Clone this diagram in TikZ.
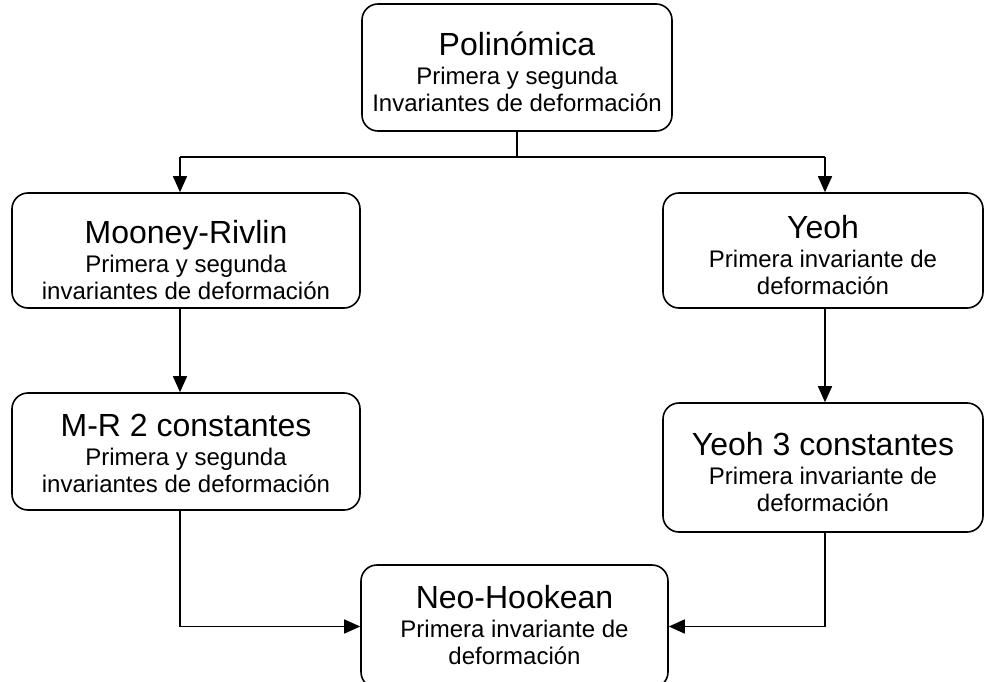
\documentclass[tikz,border=0pt]{standalone}
\usepackage{fontspec}
\setmainfont{Liberation Sans}
\usetikzlibrary{arrows.meta}
\newcommand\boxtxt[3]{\raisebox{#1pt}[0pt][0pt]{\begin{tabular}[t]{@{}c@{}}\fontsize{32}{36}\selectfont #2\\[2pt]#3\end{tabular}}}
\tikzset{
  flowbox/.style={draw=black, line width=1.6pt, rounded corners=16pt, inner sep=0pt,
    font=\fontsize{24}{27}\selectfont, fill=white},
  conn/.style={draw=black, line width=1.6pt},
  arr/.style={conn, -{Triangle[length=16pt,width=14pt]}}
}
\begin{document}
\begin{tikzpicture}[x=1pt,y=-1pt]
\useasboundingbox (0,0) rectangle (993,682);
\fill[white] (0,0) rectangle (993,682);
\node[flowbox, minimum width=310pt, minimum height=127pt] (poly) at (517,67.5)
  {\boxtxt{11.5}{Polinómica}{Primera y segunda\\Invariantes de deformación}};
\node[flowbox, minimum width=348pt, minimum height=115pt] (mr) at (186,250.5)
  {\boxtxt{7.5}{Mooney-Rivlin}{Primera y segunda\\invariantes de deformación}};
\node[flowbox, minimum width=320pt, minimum height=115pt] (yeoh) at (823,250.5)
  {\boxtxt{12.5}{Yeoh}{Primera invariante de\\deformación}};
\node[flowbox, minimum width=348pt, minimum height=117pt] (mr2) at (186,451.5)
  {\boxtxt{15.5}{M-R 2 constantes}{Primera y segunda\\invariantes de deformación}};
\node[flowbox, minimum width=320pt, minimum height=129pt] (yeoh3) at (823,467.5)
  {\boxtxt{12.5}{Yeoh 3 constantes}{Primera invariante de\\deformación}};
\node[flowbox, minimum width=307pt, minimum height=123pt] (neo) at (514.5,626.5)
  {\boxtxt{18}{Neo-Hookean}{Primera invariante de\\deformación}};
\coordinate (jm) at (517,157);
\coordinate (jl) at (180,157);
\coordinate (jr) at (825,157);
\draw[conn] (poly.south) -- (jm);
\draw[conn] (jl) -- (jr);
\draw[arr] (jl) -- (jl |- mr.north);
\draw[arr] (jr) -- (jr |- yeoh.north);
\draw[arr] (jl |- mr.south) -- (jl |- mr2.north);
\draw[arr] (jr |- yeoh.south) -- (jr |- yeoh3.north);
\draw[arr] (jl |- mr2.south) |- (neo.west);
\draw[arr] (jr |- yeoh3.south) |- (neo.east);
\end{tikzpicture}
\end{document}
